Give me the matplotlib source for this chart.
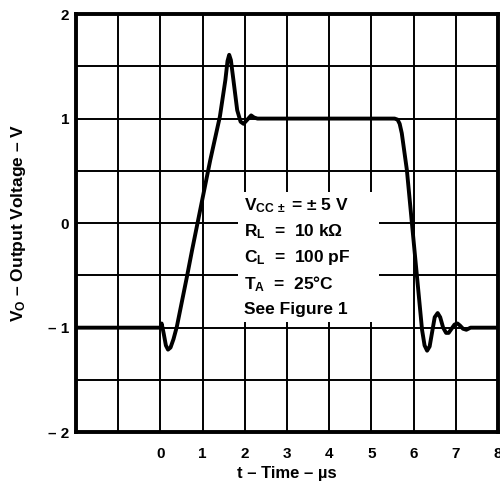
import matplotlib
matplotlib.use("Agg")
import matplotlib.pyplot as plt

plt.rcParams["font.family"] = ["Liberation Sans", "DejaVu Sans"]
plt.rcParams["font.weight"] = "bold"
plt.rcParams["mathtext.fontset"] = "custom"
plt.rcParams["mathtext.rm"] = "Liberation Sans:bold"
plt.rcParams["mathtext.it"] = "Liberation Sans:bold"
plt.rcParams["mathtext.bf"] = "Liberation Sans:bold"

# output waveform (t in us, v in V)
t_us = [-2.0, 0.0, 0.03, 0.08, 0.13, 0.18, 0.24, 0.31, 0.39, 0.63, 0.75,
        1.18, 1.41, 1.54, 1.59, 1.63, 1.67, 1.73, 1.82, 1.90, 1.97, 2.06,
        2.15, 2.22, 2.30, 5.55, 5.62, 5.67, 5.72, 5.84, 5.96, 6.08, 6.20,
        6.26, 6.32, 6.38, 6.44, 6.50, 6.57, 6.63, 6.70, 6.77, 6.83, 6.90,
        6.97, 7.04, 7.10, 7.17, 7.25, 7.35, 8.0]
v_out = [-1.0, -1.0, -0.96, -1.06, -1.17, -1.21, -1.19, -1.11, -0.99, -0.51, -0.26,
         0.60, 1.02, 1.37, 1.55, 1.61, 1.56, 1.37, 1.08, 0.97, 0.95, 0.99,
         1.03, 1.01, 1.0, 1.0, 0.99, 0.95, 0.86, 0.51, 0.0, -0.51, -1.02,
         -1.17, -1.22, -1.18, -1.04, -0.90, -0.86, -0.90, -1.0, -1.05, -1.05, -1.01,
         -0.97, -0.96, -0.98, -1.01, -1.02, -1.0, -1.0]

x_ticks = [0, 1, 2, 3, 4, 5, 6, 7, 8]
x_grid = [-1, 0, 1, 2, 3, 4, 5, 6, 7]
y_ticks = [-2, -1, 0, 1, 2]
y_tick_labels = ["– 2", "– 1", "0", "1", "2"]
y_grid = [-1.5, -1, -0.5, 0, 0.5, 1, 1.5]

conditions = [
    r"V$_{\rm CC\,\pm}$ = ± 5 V",
    r"R$_{\rm L}$  =  10 kΩ",
    r"C$_{\rm L}$  =  100 pF",
    r"T$_{\rm A}$  =  25°C",
    "See Figure 1",
]

fig = plt.figure(figsize=(5.0, 4.84), dpi=100)
ax = fig.add_axes([0.152, 0.107, 0.844, 0.864])

for xg in x_grid:
    ax.axvline(xg, color="black", linewidth=1.4, zorder=1)
for yg in y_grid:
    ax.axhline(yg, color="black", linewidth=1.4, zorder=1)

ax.plot(t_us, v_out, color="black", linewidth=2.8, solid_capstyle="round",
        solid_joinstyle="round", zorder=3)

ax.set_xlim(-2, 8)
ax.set_ylim(-2, 2)
ax.set_xticks(x_ticks)
ax.set_xticklabels([str(v) for v in x_ticks], fontsize=11, fontweight="bold")
ax.set_yticks(y_ticks)
ax.set_yticklabels(y_tick_labels, fontsize=11, fontweight="bold")
ax.tick_params(axis="x", length=0, pad=11)
ax.tick_params(axis="y", length=0, pad=5)
for s in ax.spines.values():
    s.set_linewidth(2.8)
    s.set_zorder(4)

ax.set_xlabel("t – Time – µs", fontsize=12, fontweight="bold", labelpad=3)
ax.set_ylabel(r"V$_{\rm O}$ – Output Voltage – V", fontsize=12.5,
              fontweight="bold", labelpad=14)

# white block behind the test conditions
ax.add_patch(plt.Rectangle((1.85, -0.95), 3.32, 1.25, facecolor="white",
                           edgecolor="none", zorder=2))
for i, line in enumerate(conditions):
    ax.text(1.97, 0.17 - i * 0.25, line, fontsize=12.5, fontweight="bold",
            ha="left", va="center", zorder=5)

fig.savefig("out.png", dpi=100)
